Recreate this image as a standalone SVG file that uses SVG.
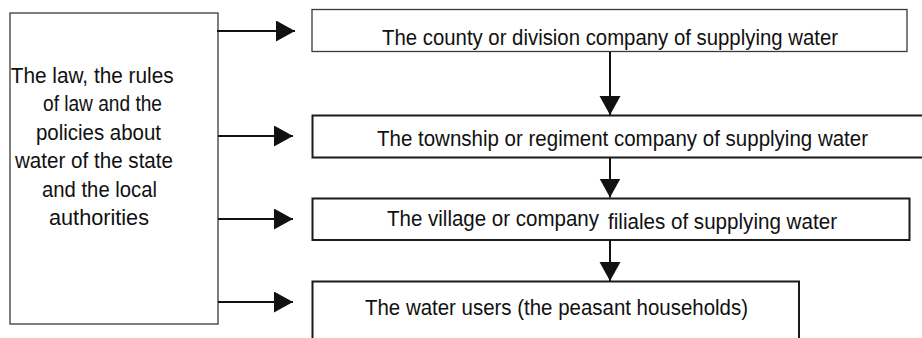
<svg xmlns="http://www.w3.org/2000/svg" width="922" height="338" viewBox="0 0 922 338">
  <style>
    .bg { fill: #ffffff; }
    .box { fill: #ffffff; stroke: #1a1a1a; stroke-width: 2; }
    .box-thin { fill: #ffffff; stroke: #3a3a3a; stroke-width: 1.3; }
    .label { font-family: "Liberation Sans", Arial, Helvetica, sans-serif; font-size: 21.3px; fill: #111111; }
    .mid { text-anchor: middle; }
    .conn { stroke: #111111; stroke-width: 2; fill: none; }
  </style>
  <defs>
    <marker id="arrow" markerUnits="userSpaceOnUse" markerWidth="20" markerHeight="22" refX="19" refY="10.5" orient="auto">
      <path d="M0,0 L19,10.5 L0,21 Z" fill="#111111"/>
    </marker>
  </defs>

  <rect class="bg" x="0" y="0" width="922" height="338"/>

  <!-- legal framework box -->
  <g id="policy">
    <rect class="box-thin" x="10" y="13" width="208" height="311"/>
    <text class="label" x="10.7" y="82.5" textLength="163" lengthAdjust="spacingAndGlyphs">The law, the rules</text>
    <text class="label" x="43" y="111" textLength="119" lengthAdjust="spacingAndGlyphs">of law and the</text>
    <text class="label" x="36" y="139.5" textLength="125" lengthAdjust="spacingAndGlyphs">policies about</text>
    <text class="label" x="15" y="168" textLength="158" lengthAdjust="spacingAndGlyphs">water of the state</text>
    <text class="label" x="42" y="196.5" textLength="115" lengthAdjust="spacingAndGlyphs">and the local</text>
    <text class="label" x="49" y="225" textLength="100" lengthAdjust="spacingAndGlyphs">authorities</text>
  </g>

  <!-- supply chain levels -->
  <g id="county">
    <rect class="box-thin" x="312" y="9.5" width="595" height="42"/>
    <text class="label" x="382" y="44.5" textLength="456" lengthAdjust="spacingAndGlyphs">The county or division company of supplying water</text>
  </g>

  <g id="township">
    <rect class="box" x="312.5" y="115.5" width="620" height="42"/>
    <text class="label" x="377" y="145.5" textLength="491" lengthAdjust="spacingAndGlyphs">The township or regiment company of supplying water</text>
  </g>

  <g id="village">
    <rect class="box" x="312.5" y="198.5" width="597" height="41.5"/>
    <text class="label" x="387" y="225.5" textLength="212" lengthAdjust="spacingAndGlyphs">The village or company</text>
    <text class="label" x="608" y="228.5" textLength="229" lengthAdjust="spacingAndGlyphs">filiales of supplying water</text>
  </g>

  <g id="users">
    <rect class="box" x="312.5" y="281.5" width="486.5" height="70"/>
    <text class="label" x="365" y="314.5" textLength="383" lengthAdjust="spacingAndGlyphs">The water users (the peasant households)</text>
  </g>

  <!-- connectors -->
  <g id="connectors">
    <line class="conn" x1="217" y1="31" x2="295" y2="31" marker-end="url(#arrow)"/>
    <line class="conn" x1="218" y1="136" x2="293" y2="136" marker-end="url(#arrow)"/>
    <line class="conn" x1="218" y1="219" x2="293" y2="219" marker-end="url(#arrow)"/>
    <line class="conn" x1="218" y1="302" x2="293" y2="302" marker-end="url(#arrow)"/>
    <line class="conn" x1="610" y1="52" x2="610" y2="115" marker-end="url(#arrow)"/>
    <line class="conn" x1="610" y1="158" x2="610" y2="197.5" marker-end="url(#arrow)"/>
    <line class="conn" x1="610" y1="240.5" x2="610" y2="281" marker-end="url(#arrow)"/>
  </g>
</svg>
